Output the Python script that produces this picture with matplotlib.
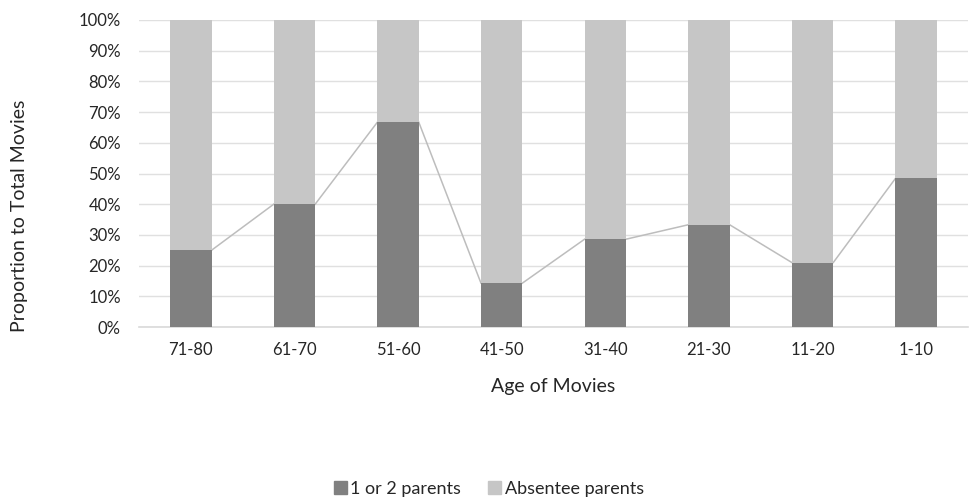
import matplotlib
matplotlib.use("Agg")
import matplotlib.pyplot as plt
import numpy as np
from matplotlib.ticker import PercentFormatter
from matplotlib.patches import Patch

categories = ["71-80", "61-70", "51-60", "41-50", "31-40", "21-30", "11-20", "1-10"]
one_or_two = [0.25, 0.40, 0.667, 0.143, 0.286, 0.333, 0.21, 0.484]
absentee = [1 - v for v in one_or_two]
yticks = [0, 0.1, 0.2, 0.3, 0.4, 0.5, 0.6, 0.7, 0.8, 0.9, 1.0]

plt.rcParams['font.family'] = ['Lato', 'DejaVu Sans']
dark = "#808080"
light = "#c6c6c6"
text_c = "#262626"

W, H = 971, 499
fig = plt.figure(figsize=(W / 100, H / 100), dpi=100)
ax = fig.add_axes([139 / W, 1 - 327 / H, (968 - 139) / W, (327 - 20) / H])

x = np.arange(len(categories))
w = 0.4
ax.bar(x, one_or_two, width=w, color=dark, zorder=3, label="1 or 2 parents")
ax.bar(x, absentee, width=w, bottom=one_or_two, color=light, zorder=3, label="Absentee parents")

# series lines connecting tops of the lower segment
for i in range(len(categories) - 1):
    ax.plot([x[i] + w / 2, x[i + 1] - w / 2], [one_or_two[i], one_or_two[i + 1]],
            color="#bdbdbd", lw=1.1, zorder=2)

ax.set_xlim(-0.5, len(categories) - 0.5)
ax.set_ylim(0, 1)
ax.set_yticks(yticks)
ax.yaxis.set_major_formatter(PercentFormatter(1.0, decimals=0))
ax.set_xticks(x)
ax.set_xticklabels(categories)
ax.grid(axis='y', color="#e0e0e0", lw=1, zorder=0)
for s in ["top", "right", "left"]:
    ax.spines[s].set_visible(False)
ax.spines["bottom"].set_color("#d9d9d9")
ax.spines["bottom"].set_linewidth(1.2)
ax.tick_params(axis='both', length=0, labelsize=12, colors=text_c)
ax.tick_params(axis='y', pad=13)
ax.tick_params(axis='x', pad=11)

ax.set_xlabel("Age of Movies", fontsize=14, color=text_c, labelpad=14)
fig.text(19.5 / W, 1 - 100 / H, "Proportion to Total Movies", rotation=90, fontsize=14,
         color=text_c, ha='center', va='top')

handles = [Patch(color=dark, label="1 or 2 parents"), Patch(color=light, label="Absentee parents")]
fig.legend(handles=handles, loc='center', bbox_to_anchor=(489 / W, 1 - 489 / H), ncol=2, frameon=False,
           fontsize=13, handlelength=0.72, handleheight=0.72, handletextpad=0.2,
           columnspacing=1.5, labelcolor=text_c)

fig.savefig("out.png", dpi=100)
